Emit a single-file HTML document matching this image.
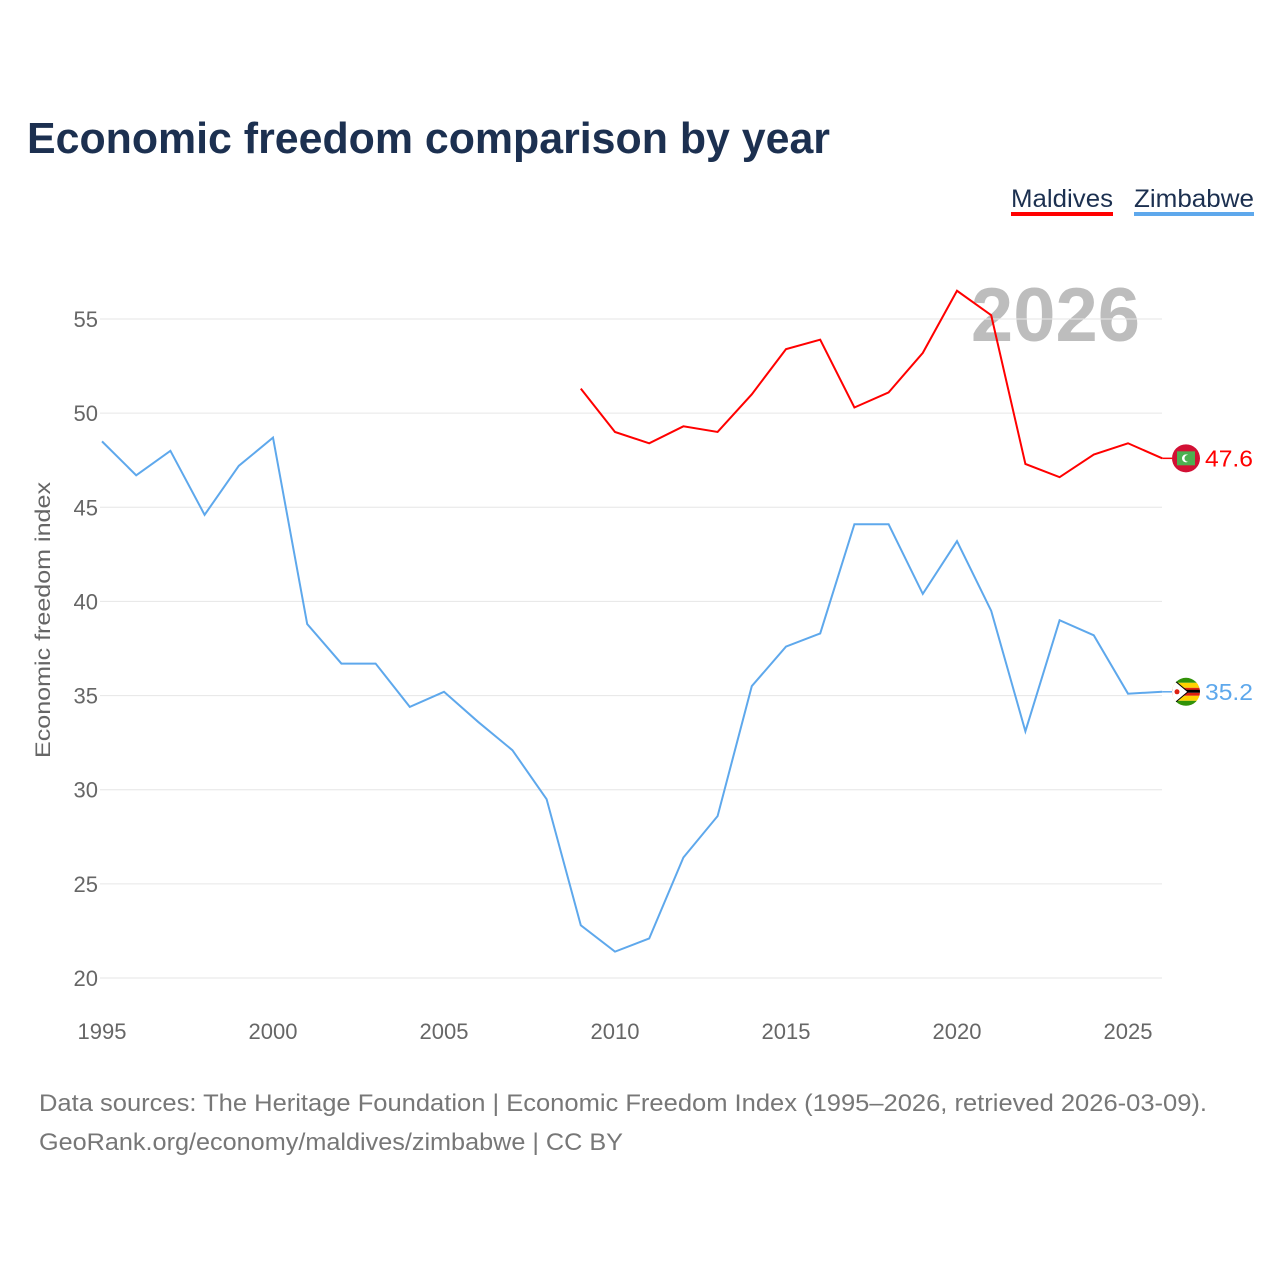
<!DOCTYPE html>
<html><head><meta charset="utf-8"><style>
body{margin:0;background:#fff;font-family:"Liberation Sans",sans-serif;}
#wrap{position:relative;width:1280px;height:1280px;overflow:hidden;}
</style></head><body>
<div id="wrap">
<svg id="chart" width="1280" height="1280">
<defs><clipPath id="zc"><circle cx="1186" cy="691" r="14"/></clipPath><clipPath id="mc"><circle cx="1186" cy="458" r="14"/></clipPath></defs>
<text x="27" y="153" font-size="44" font-weight="bold" fill="#1c3050" textLength="803" lengthAdjust="spacingAndGlyphs">Economic freedom comparison by year</text>
<g>
<text x="1011" y="207" font-size="25" fill="#1c3050" textLength="102" lengthAdjust="spacingAndGlyphs">Maldives</text>
<rect x="1011" y="212" width="102" height="4" fill="#f00"/>
</g>
<g>
<text x="1134" y="207" font-size="25" fill="#1c3050" textLength="120" lengthAdjust="spacingAndGlyphs">Zimbabwe</text>
<rect x="1134" y="212" width="120" height="4" fill="#5ea8ec"/>
</g>
<text x="1140" y="341" font-size="76" font-weight="bold" fill="#bdbdbd" text-anchor="end">2026</text>
<g id="grid"></g>
<g id="xticks"></g>
<text transform="translate(50,620) rotate(-90)" font-size="21" fill="#666" text-anchor="middle" textLength="276" lengthAdjust="spacingAndGlyphs">Economic freedom index</text>
<g id="series"></g>
<text x="39" y="1111" font-size="24" fill="#777" textLength="1168" lengthAdjust="spacingAndGlyphs">Data sources: The Heritage Foundation | Economic Freedom Index (1995–2026, retrieved 2026-03-09).</text>
<text x="39" y="1150" font-size="24" fill="#777" textLength="584" lengthAdjust="spacingAndGlyphs">GeoRank.org/economy/maldives/zimbabwe | CC BY</text>
</svg>
</div>
<script>
const years=[1995,1996,1997,1998,1999,2000,2001,2002,2003,2004,2005,2006,2007,2008,2009,2010,2011,2012,2013,2014,2015,2016,2017,2018,2019,2020,2021,2022,2023,2024,2025,2026];
const zimbabwe=[48.5,46.7,48.0,44.6,47.2,48.7,38.8,36.7,36.7,34.4,35.2,33.6,32.1,29.5,22.8,21.4,22.1,26.4,28.6,35.5,37.6,38.3,44.1,44.1,40.4,43.2,39.5,33.1,39.0,38.2,35.1,35.2];
const maldives=[null,null,null,null,null,null,null,null,null,null,null,null,null,null,51.3,49.0,48.4,49.3,49.0,51.0,53.4,53.9,50.3,51.1,53.2,56.5,55.2,47.3,46.6,47.8,48.4,47.6];
const yTicks=[20,25,30,35,40,45,50,55];
const xTicks=[1995,2000,2005,2010,2015,2020,2025];
const NS="http://www.w3.org/2000/svg";
const X=y=>102+(y-1995)*(1128-102)/30;
const Y=v=>978-(v-20)*(978-319)/35;
function mk(t,a,p){const e=document.createElementNS(NS,t);for(const k in a)e.setAttribute(k,a[k]);p.appendChild(e);return e;}
const grid=document.getElementById('grid');
yTicks.forEach(v=>{
 const l=mk('line',{x1:100,x2:1162,y1:Y(v),y2:Y(v),stroke:'#e6e6e6','stroke-width':1},grid);
 
 
 const t=mk('text',{x:98,y:Y(v)+8,'font-size':22,fill:'#666','text-anchor':'end'},grid);
 t.textContent=v;
 
 
});
const xt=document.getElementById('xticks');
xTicks.forEach(v=>{
 const t=mk('text',{x:X(v),y:1039,'font-size':22,fill:'#666','text-anchor':'middle'},xt);
 t.textContent=v;
 
 
});
const sg=document.getElementById('series');
function draw(vals,color,name,label){
 let d='',last=null;
 vals.forEach((v,i)=>{if(v==null)return;d+=(d?'L':'M')+X(years[i])+','+Y(v);last=[X(years[i]),Y(v),v];});
 const p=mk('path',{d:d,fill:'none',stroke:color,'stroke-width':2},sg);
 
 
 mk('line',{x1:last[0],x2:1172,y1:last[1],y2:last[1],stroke:color,'stroke-width':1.5},sg);
 const cy=last[1];
 const g=mk('g',{'clip-path':name=='maldives'?'url(#mc)':'url(#zc)',transform:`translate(0,${cy-(name=='maldives'?458:691)})`},sg);
 
 
 const by=name=='maldives'?458:691;
 if(name=='maldives'){mk('rect',{x:1170,y:by-16,width:32,height:32,fill:'#d21034'},g);mk('rect',{x:1177,y:by-7,width:18,height:14,fill:'#4caf50'},g);mk('circle',{cx:1186,cy:by,r:4,fill:'#fff'},g);mk('circle',{cx:1188,cy:by,r:3.5,fill:'#4caf50'},g);}
 else{[['#319208',-16],['#ffd200',-9],['#de2010',-4],['#000',-2],['#de2010',1],['#ffd200',4],['#319208',9]].forEach(s=>mk('rect',{x:1170,y:by+s[1],width:32,height:s[1]==-16||s[1]==9?7:(s[1]==-9||s[1]==4?5:3),fill:s[0]},g));mk('path',{d:`M1170,${by-15}L1188,${by}L1170,${by+15}Z`,fill:'#fff',stroke:'#000','stroke-width':1},g);mk('circle',{cx:1177,cy:by,r:2.5,fill:'#de2010'},g);}
 const t=mk('text',{x:1205,y:last[1]+8,'font-size':23,fill:color,textLength:48,lengthAdjust:'spacingAndGlyphs'},sg);
 t.textContent=label(last[2]);
 
 
}
draw(zimbabwe,'#5ea8ec','zimbabwe',v=>v.toFixed(1));
draw(maldives,'#ff0000','maldives',v=>v.toFixed(1));
</script>
</body></html>
